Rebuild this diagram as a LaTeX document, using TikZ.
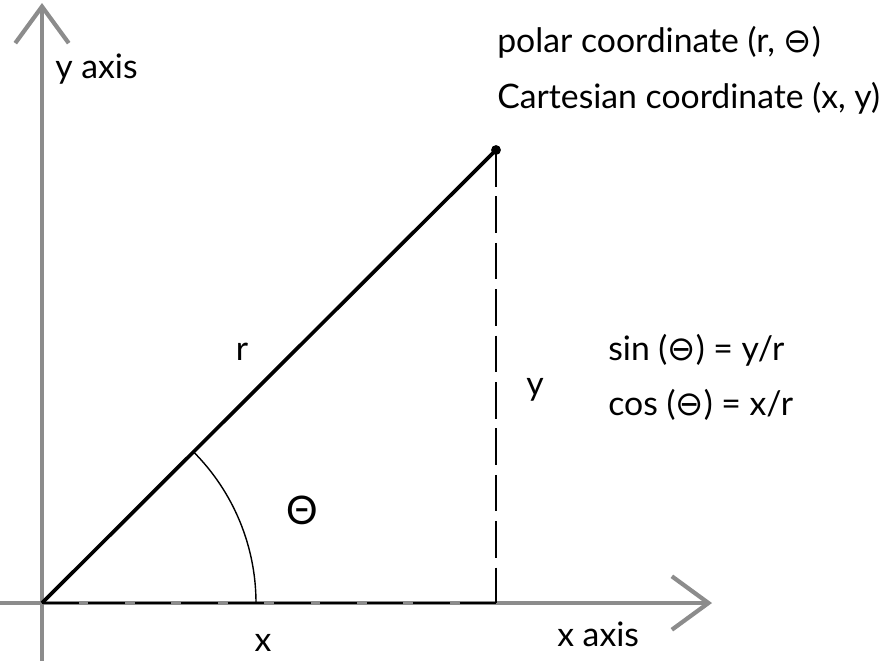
\documentclass[tikz,border=0pt]{standalone}
\usepackage{fontspec}
\setmainfont{Lato}
\newfontfamily\symfont{DejaVu Sans}
\usetikzlibrary{arrows.meta}
\definecolor{axisgray}{gray}{0.55}
\tikzset{
  axis_line/.style = {draw=axisgray, line width=3.5pt, line cap=round,
    -{Straight Barb[length=26pt,width=38pt,line width=3pt]}},% axes, pencil grey
  ray_line/.style = {draw=black, line width=2.6pt},% radius r
  proj_line/.style = {draw=black, line width=1.8pt,
    dash pattern=on 26pt off 7pt},% projections x and y
  lbl/.style = {inner sep=0pt, font=\fontsize{24}{28}\selectfont}
}
\newcommand{\thetasym}{{\symfont ⊖}}

\begin{document}
\begin{tikzpicture}[x=0.025cm,y=-0.025cm]
\useasboundingbox (0,0) rectangle (880,660);
\coordinate (O) at (42,603);
\coordinate (P) at (496,150);
\coordinate (Px) at (496,603);
\coordinate (xstart) at (0,603);
\coordinate (xend) at (712,603);
\coordinate (ystart) at (42,660);
\coordinate (yend) at (42,3);
\coordinate (arcstart) at (256,603);

\draw[axis_line] (xstart) -- (xend);
\draw[axis_line] (ystart) -- (yend);
\draw[proj_line] (O) -- (Px);
\draw[proj_line] (P) -- (Px);
\draw[ray_line] (O) -- (P);
\draw[line width=1pt] (arcstart) arc[start angle=0, end angle=-45, radius=214];
\fill (P) circle[radius=3.5pt];

\node[lbl, anchor=base west] (yaxis) at (55,78) {y axis};
\node[lbl, anchor=base west] (xaxis) at (557,646) {x axis};
\node[lbl, anchor=base west] (polar) at (497,52) {polar coordinate (r, \thetasym)};
\node[lbl, anchor=base west] (cart) at (497,108) {Cartesian coordinate (x, y)};
\node[lbl, anchor=base west] (sin) at (608,360) {sin (\thetasym) = y/r};
\node[lbl, anchor=base west] (cos) at (608,415) {cos (\thetasym) = x/r};
\node[lbl] (rlab) at (242,352) {r};
\node[lbl] (ylab) at (535,390) {y};
\node[lbl] (xlab) at (263,643) {x};
\node[lbl, font=\fontsize{28}{32}\selectfont] (theta) at (302,510) {Θ};
\end{tikzpicture}
\end{document}
